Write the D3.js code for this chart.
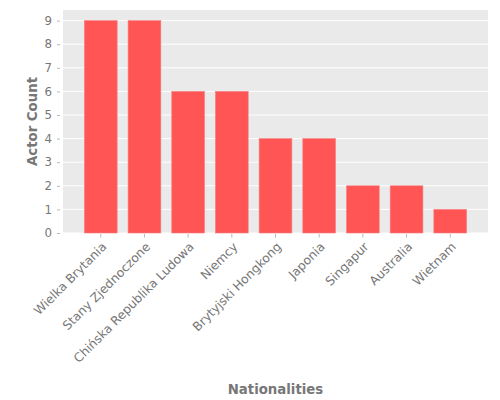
<!DOCTYPE html>
<html>
<head>
<meta charset="utf-8">
<script src="https://cdn.jsdelivr.net/npm/d3@7"></script>
<style>
  body { margin: 0; background: #fff; }
  text { font-family: "DejaVu Sans", sans-serif; }
</style>
</head>
<body>
<div id="chart"></div>
<script>
var svgWidth = 500;
var svgHeight = 400;

// chart data
var nationalities = ["Wielka Brytania", "Stany Zjednoczone", "Chińska Republika Ludowa",
  "Niemcy", "Brytyjski Hongkong", "Japonia", "Singapur", "Australia", "Wietnam"];
var actorCounts = [9, 9, 6, 6, 4, 4, 2, 2, 1];
var yTicks = [0, 1, 2, 3, 4, 5, 6, 7, 8, 9];

var margin = { top: 10, right: 12, bottom: 167, left: 63 };
var width = svgWidth - margin.left - margin.right;
var height = svgHeight - margin.top - margin.bottom;

var svg = d3.select("#chart")
  .append("svg")
  .attr("width", svgWidth)
  .attr("height", svgHeight);

var chartGroup = svg.append("g")
  .attr("transform", `translate(${margin.left}, ${margin.top})`);

// scales
var xScale = d3.scaleBand()
  .domain(nationalities)
  .range([0, width])
  .paddingInner(0.25)
  .paddingOuter(0.49);

var yScale = d3.scaleLinear()
  .domain([0, 9.45])
  .range([height, 0]);

// background + grid
chartGroup.append("rect")
  .attr("width", width)
  .attr("height", height)
  .attr("fill", "#EAEAEA");

chartGroup.selectAll(".grid")
  .data(yTicks)
  .enter()
  .append("line")
  .attr("x1", 0)
  .attr("x2", width)
  .attr("y1", d => yScale(d))
  .attr("y2", d => yScale(d))
  .attr("stroke", "#fff")
  .attr("stroke-width", 1);

// bars
chartGroup.selectAll(".bar")
  .data(actorCounts)
  .enter()
  .append("rect")
  .attr("x", (d, i) => xScale(nationalities[i]))
  .attr("y", d => yScale(d))
  .attr("width", xScale.bandwidth())
  .attr("height", d => height - yScale(d))
  .attr("fill", "#FF5555")
  .attr("stroke", "#F58080")
  .attr("stroke-width", 0.6);

// y axis
var leftAxis = d3.axisLeft(yScale)
  .tickValues(yTicks)
  .tickFormat(d3.format("d"))
  .tickSize(3)
  .tickPadding(5);

var yAxis = chartGroup.append("g")
  .attr("transform", "translate(-3, 0)")
  .call(leftAxis);
yAxis.select(".domain").remove();
yAxis.selectAll("line").attr("stroke", "#888").attr("stroke-width", 0.6);
yAxis.selectAll("text")
  .attr("fill", "#777")
  .style("font-size", "11.8px")
  .style("font-family", "DejaVu Sans");

// x axis
var bottomAxis = d3.axisBottom(xScale)
  .tickSize(3.5)
  .tickPadding(4);

var xAxis = chartGroup.append("g")
  .attr("transform", `translate(0, ${height + 1})`)
  .call(bottomAxis);
xAxis.select(".domain").remove();
xAxis.selectAll("line").attr("stroke", "#888").attr("stroke-width", 0.6);
xAxis.selectAll("text")
  .attr("fill", "#777")
  .style("font-size", "12.3px")
  .style("font-family", "DejaVu Sans")
  .attr("text-anchor", "end")
  .attr("y", 0)
  .attr("dy", "0.75em")
  .attr("transform", "translate(0, 7) rotate(-45)");

// axis labels
svg.append("text")
  .attr("x", margin.left + width / 2)
  .attr("y", 394)
  .attr("text-anchor", "middle")
  .attr("fill", "#777")
  .style("font-size", "13.3px")
  .style("font-weight", "bold")
  .text("Nationalities");

svg.append("text")
  .attr("transform", `translate(37, ${margin.top + height / 2}) rotate(-90)`)
  .attr("text-anchor", "middle")
  .attr("fill", "#777")
  .style("font-size", "13.3px")
  .style("font-weight", "bold")
  .text("Actor Count");
</script>
</body>
</html>
